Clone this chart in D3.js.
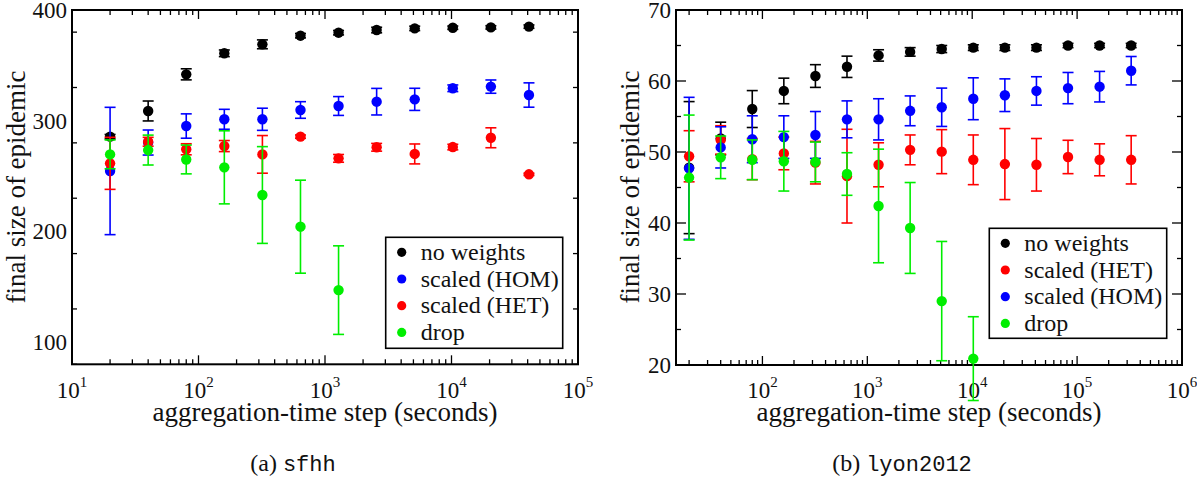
<!DOCTYPE html>
<html>
<head>
<meta charset="utf-8">
<script src="https://cdn.jsdelivr.net/npm/d3@7"></script>
<style>
  html, body { margin: 0; padding: 0; background: #fff; }
  svg { display: block; }
</style>
</head>
<body>
<svg id="chart" width="1197" height="480"></svg>
<script>
// ---------------- DATA ----------------
// (a) sfhh
const xSfhh = [20, 40, 80, 160, 320, 640, 1280, 2560, 5120, 10240, 20480, 40960];
const sfhhNoWeights    = [285.6, 308.8, 341.9, 360.9, 369.0, 376.8, 379.5, 381.9, 383.4, 384.0, 384.3, 385.0];
const sfhhNoWeightsErr = [2, 9, 5, 3, 4, 2, 2, 2.5, 2, 1.5, 1.5, 1.5];
const sfhhHom    = [254.6, 280.3, 295.2, 301.3, 301.3, 309.7, 313.3, 317.2, 319.3, 329.3, 330.8, 323.2];
const sfhhHomErr = [57.5, 11.3, 11, 9, 10, 7.5, 8.5, 12, 10, 3, 6, 11];
const sfhhHet    = [261.5, 281.0, 274.2, 277.1, 269.6, 285.6, 266.0, 276.0, 270.0, 276.2, 284.6, 251.6];
const sfhhHetErr = [23.5, 4, 5, 5, 17, 1.5, 3.5, 3.5, 9, 2.5, 9, 1];
const sfhhDrop    = [269.6, 273.5, 265.0, 257.9, 232.9, 204.3, 147.0];
const sfhhDropErr = [13, 13.5, 13, 33, 43.7, 42, 40];

// (b) lyon2012
const xLyon = [20, 40, 80, 160, 320, 640, 1280, 2560, 5120, 10240, 20480, 40960, 81920, 163840, 327680];
const lyonNoWeights    = [47.8, 51.9, 56.05, 58.6, 60.7, 62.0, 63.6, 64.1, 64.5, 64.7, 64.7, 64.7, 65.0, 65.0, 65.0];
const lyonNoWeightsErr = [9.3, 2.3, 2.6, 1.8, 1.6, 1.5, 0.8, 0.6, 0.5, 0.4, 0.4, 0.4, 0.3, 0.3, 0.3];
const lyonHet    = [49.4, 51.7, 49.0, 49.8, 48.5, 46.6, 48.2, 50.3, 50.05, 48.9, 48.3, 48.2, 49.3, 48.9, 48.9];
const lyonHetErr = [3.6, 2, 2.9, 2.3, 3, 6.6, 3.1, 2.1, 3.1, 3.5, 5, 3.7, 2.35, 2.25, 3.4];
const lyonHom    = [47.7, 50.65, 51.8, 52.1, 52.4, 54.6, 54.6, 55.8, 56.3, 57.5, 58.0, 58.6, 59.0, 59.2, 61.45];
const lyonHomErr = [10, 2.9, 3.3, 3, 3.3, 2.6, 2.9, 2.1, 2.7, 2.95, 2.3, 2, 2.2, 2.15, 2];
const lyonDrop    = [46.4, 49.25, 48.9, 48.7, 48.6, 46.9, 42.4, 39.3, 29.0, 20.9];
const lyonDropErr = [8.8, 3, 2.8, 4.2, 2.8, 3, 8, 6.4, 8.4, 5.9];

// tick labels
const sfhhYTicks = [100, 200, 300, 400];
const lyonYTicks = [20, 30, 40, 50, 60, 70];
const sfhhXExps = [1, 2, 3, 4, 5];
const lyonXExps = [2, 3, 4, 5, 6];

const xTitle = "aggregation-time step (seconds)";
const yTitle = "final size of epidemic";

// ---------------- DRAW ----------------
const SERIF = "'Liberation Serif'";
const MONO = "'Liberation Mono'";
const svg = d3.select("#chart");
const COLORS = { black: "#000000", blue: "#0000ff", red: "#ff0000", green: "#00ee00" };

function txt(sel, size) {
  return sel.append("text").attr("font-size", size).attr("font-family", SERIF).attr("fill", "#111");
}

function panel(cfg) {
  const x = d3.scaleLog().domain(cfg.xDomain).range([cfg.left, cfg.right]);
  const y = d3.scaleLinear().domain(cfg.yDomain).range([cfg.bottom, cfg.top]);
  const g = svg.append("g");

  const allX = x.ticks().filter(v => v >= cfg.xDomain[0] && v <= cfg.xDomain[1]);
  const isMajor = v => Math.abs(Math.log10(v) - Math.round(Math.log10(v))) < 1e-9;
  const majX = allX.filter(isMajor), minX = allX.filter(v => !isMajor(v));
  const allY = d3.range(cfg.yDomain[0], cfg.yDomain[1] + 1e-9, cfg.yMinorStep);
  const majY = allY.filter(v => cfg.yTicks.includes(v)), minY = allY.filter(v => !cfg.yTicks.includes(v));

  const MAJ = 9, MIN = 5;
  const tickG = g.append("g").attr("stroke", "#000").attr("stroke-width", 1.3);
  function xt(vals, len) {
    vals.forEach(v => {
      const px = x(v);
      tickG.append("line").attr("x1", px).attr("x2", px).attr("y1", cfg.bottom).attr("y2", cfg.bottom - len);
      tickG.append("line").attr("x1", px).attr("x2", px).attr("y1", cfg.top).attr("y2", cfg.top + len);
    });
  }
  function yt(vals, len) {
    vals.forEach(v => {
      const py = y(v);
      tickG.append("line").attr("y1", py).attr("y2", py).attr("x1", cfg.left).attr("x2", cfg.left + len);
      tickG.append("line").attr("y1", py).attr("y2", py).attr("x1", cfg.right).attr("x2", cfg.right - len);
    });
  }
  xt(majX, MAJ); xt(minX, MIN); yt(majY, MAJ + 1); yt(minY, MIN);

  g.append("rect").attr("x", cfg.left).attr("y", cfg.top)
    .attr("width", cfg.right - cfg.left).attr("height", cfg.bottom - cfg.top)
    .attr("fill", "none").attr("stroke", "#000").attr("stroke-width", 2);

  cfg.yTicks.forEach(v => {
    txt(g, 23).attr("x", cfg.left - 5).attr("y", y(v) + 8).attr("text-anchor", "end").text(v);
  });
  cfg.xExps.forEach(k => {
    const t = txt(g, 23).attr("x", x(Math.pow(10, k))).attr("y", 398).attr("text-anchor", "middle");
    t.append("tspan").text("10");
    t.append("tspan").attr("dy", -11).attr("font-size", 15).text(k);
  });

  txt(g, 27).attr("x", (cfg.left + cfg.right) / 2).attr("y", 421)
    .attr("text-anchor", "middle").text(xTitle);
  txt(g, 27).attr("transform", `translate(${cfg.yTitleX},187) rotate(-90)`)
    .attr("text-anchor", "middle").text(yTitle);

  const cap = txt(g, 24).attr("x", cfg.capX).attr("y", 471).attr("text-anchor", "middle");
  cap.append("tspan").text(cfg.capLabel + " ");
  cap.append("tspan").attr("font-family", MONO).attr("font-size", 22).text(cfg.capName);

  cfg.series.forEach(s => {
    const sg = g.append("g");
    const pts = s.vals.map((v, i) => ({ x: cfg.xs[i], v, e: s.err[i] }));
    const eb = sg.append("g").attr("stroke", s.color).attr("stroke-width", 1.6).attr("fill", "none");
    pts.forEach(p => {
      const px = x(p.x), y1 = y(p.v - p.e), y2 = y(p.v + p.e);
      eb.append("line").attr("x1", px).attr("x2", px).attr("y1", y1).attr("y2", y2);
      eb.append("line").attr("x1", px - 5.5).attr("x2", px + 5.5).attr("y1", y1).attr("y2", y1);
      eb.append("line").attr("x1", px - 5.5).attr("x2", px + 5.5).attr("y1", y2).attr("y2", y2);
    });
    sg.selectAll("circle").data(pts).join("circle")
      .attr("cx", d => x(d.x)).attr("cy", d => y(d.v)).attr("r", 5.2).attr("fill", s.color);
  });

  const L = cfg.legend;
  g.append("rect").attr("x", L.x).attr("y", L.y).attr("width", L.w).attr("height", L.h)
    .attr("fill", "#fff").attr("stroke", "#000").attr("stroke-width", 1.6);
  cfg.series.slice().sort((a, b) => a.legendOrder - b.legendOrder).forEach((s, i) => {
    const cy = L.y + 15 + i * 26.7;
    g.append("circle").attr("cx", L.x + 16).attr("cy", cy).attr("r", 4.6).attr("fill", s.color);
    txt(g, 24).attr("x", L.x + 35).attr("y", cy + 7.5).text(s.name);
  });
}

panel({
  left: 72, right: 578, top: 10, bottom: 364.3, yTitleX: 25,
  xDomain: [10, 1e5], yDomain: [80, 400], yTicks: sfhhYTicks, yMinorStep: 50, xExps: sfhhXExps,
  xs: xSfhh, capX: 293, capLabel: "(a)", capName: "sfhh",
  legend: { x: 385.7, y: 237.3, w: 177, h: 111 },
  series: [
    { name: "no weights", color: COLORS.black, vals: sfhhNoWeights, err: sfhhNoWeightsErr, legendOrder: 0 },
    { name: "scaled (HOM)", color: COLORS.blue, vals: sfhhHom, err: sfhhHomErr, legendOrder: 1 },
    { name: "scaled (HET)", color: COLORS.red, vals: sfhhHet, err: sfhhHetErr, legendOrder: 2 },
    { name: "drop", color: COLORS.green, vals: sfhhDrop, err: sfhhDropErr, legendOrder: 3 }
  ]
});

panel({
  left: 676, right: 1182, top: 10, bottom: 365, yTitleX: 639,
  xDomain: [15, 1e6], yDomain: [20, 70], yTicks: lyonYTicks, yMinorStep: 5, xExps: lyonXExps,
  xs: xLyon, capX: 902, capLabel: "(b)", capName: "lyon2012",
  legend: { x: 989.3, y: 228.3, w: 177.4, h: 110 },
  series: [
    { name: "no weights", color: COLORS.black, vals: lyonNoWeights, err: lyonNoWeightsErr, legendOrder: 0 },
    { name: "scaled (HET)", color: COLORS.red, vals: lyonHet, err: lyonHetErr, legendOrder: 1 },
    { name: "scaled (HOM)", color: COLORS.blue, vals: lyonHom, err: lyonHomErr, legendOrder: 2 },
    { name: "drop", color: COLORS.green, vals: lyonDrop, err: lyonDropErr, legendOrder: 3 }
  ]
});
</script>
</body>
</html>
